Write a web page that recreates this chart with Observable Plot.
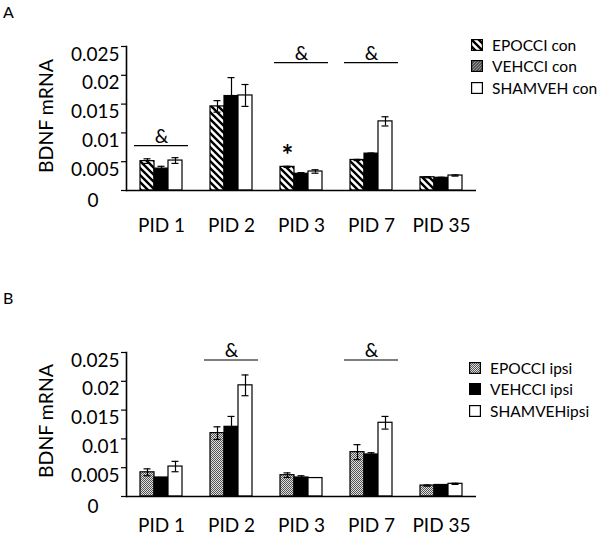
<!DOCTYPE html>
<html>
<head>
<meta charset="utf-8">
<script src="https://cdn.jsdelivr.net/npm/d3@7"></script>
<script src="https://cdn.jsdelivr.net/npm/@observablehq/plot@0.6"></script>
<style>
  html, body { margin: 0; padding: 0; background: #fff; }
  #wrap { position: relative; width: 600px; height: 535px; font-family: Lato, "Noto Sans", sans-serif; color: #000; overflow: hidden; }
  .panel { position: absolute; left: 0; }
  .letter { position: absolute; left: 3px; font-size: 16px; }
  .ylab { position: absolute; font-size: 19.5px; white-space: nowrap; transform: translate(-50%, -50%) rotate(-90deg); }
  .legend { position: absolute; font-size: 15.5px; }
  .legend .row { display: flex; align-items: center; height: 21.5px; white-space: nowrap; }
  .legend svg { margin-right: 9px; flex: none; }
</style>
</head>
<body>
<svg width="0" height="0" style="position:absolute">
  <defs>
    <pattern id="hatch" patternUnits="userSpaceOnUse" width="7" height="7">
      <rect width="7" height="7" fill="#fff"/>
      <path d="M0,0L7,7M-1,6L1,8M6,-1L8,1" stroke="#000" stroke-width="2.4"/>
    </pattern>
    <pattern id="fine" patternUnits="userSpaceOnUse" width="3" height="3">
      <rect width="3" height="3" fill="#555"/>
      <path d="M0,3L3,0M-1,1L1,-1M2,4L4,2" stroke="#aaa" stroke-width="0.8"/>
    </pattern>
    <pattern id="checker" patternUnits="userSpaceOnUse" width="2" height="2">
      <rect width="2" height="2" fill="#e0e0e0"/>
      <rect width="1" height="1" fill="#555"/>
      <rect x="1" y="1" width="1" height="1" fill="#555"/>
    </pattern>
  </defs>
</svg>
<div id="wrap">
  <div class="letter" style="top:2px">A</div>
  <div class="letter" style="top:288px">B</div>
  <div id="panelA" class="panel" style="top:0px"></div>
  <div id="panelB" class="panel" style="top:270px"></div>
  <div class="ylab" style="left:45px; top:116px">BDNF mRNA</div>
  <div class="ylab" style="left:45px; top:421px">BDNF mRNA</div>
  <div id="legendA" class="legend" style="left:471px; top:34px"></div>
  <div id="legendB" class="legend" style="left:469px; top:357px"></div>
</div>
<script>
// ---------- data ----------
const pids = ["PID 1", "PID 2", "PID 3", "PID 7", "PID 35"];
const yTicks = [0.005, 0.01, 0.015, 0.02, 0.025];

// Panel A (contralateral)
const seriesA = ["EPOCCI con", "VEHCCI con", "SHAMVEH con"];
const epoConMean  = [0.0051, 0.0146, 0.0041, 0.0053, 0.0023];
const epoConSem   = [0.0004, 0.0010, 0.0001, 0.0001, 0.0001];
const vehConMean  = [0.0038, 0.0164, 0.0029, 0.0064, 0.0022];
const vehConSem   = [0.0004, 0.0032, 0.0002, 0.0001, 0.0001];
const shamConMean = [0.0052, 0.0165, 0.0033, 0.0120, 0.0026];
const shamConSem  = [0.0005, 0.0019, 0.0003, 0.0008, 0.0001];
const sigPidsA = ["PID 1", "PID 3", "PID 7"];
const sigYA    = [0.0078, 0.0222, 0.0222];
const starPidsA = ["PID 3"];
const starYA    = [0.0059];

// Panel B (ipsilateral)
const seriesB = ["EPOCCI ipsi", "VEHCCI ipsi", "SHAMVEHipsi"];
const epoIpsiMean  = [0.0042, 0.0110, 0.0037, 0.0077, 0.0019];
const epoIpsiSem   = [0.0006, 0.0011, 0.0004, 0.0013, 0.0001];
const vehIpsiMean  = [0.0033, 0.0121, 0.0033, 0.0073, 0.0020];
const vehIpsiSem   = [0.0000, 0.0018, 0.0003, 0.0003, 0.0000];
const shamIpsiMean = [0.0052, 0.0193, 0.0032, 0.0128, 0.0022];
const shamIpsiSem  = [0.0009, 0.0018, 0.0000, 0.0011, 0.0001];
const sigPidsB = ["PID 2", "PID 7"];
const sigYB    = [0.0237, 0.0237];

// ---------- build ----------
// band domain: a spacer slot on each side of every group of three bars
const keys = pids.flatMap(p => [p + "|L", p + "|0", p + "|1", p + "|2", p + "|R"]);

function rows(means, sems, j) {
  return pids.map((p, i) => ({pid: p, key: p + "|" + j, mean: means[i], sem: sems[i]}));
}

function panel(cfg) {
  const barFills = cfg.fills;
  const all = cfg.series.flatMap((s, j) => rows(cfg.means[j], cfg.sems[j], j));
  const withErr = all.filter(d => d.sem > 0);
  const sig = cfg.sigPids.map((p, i) => ({pid: p, y: cfg.sigY[i]}));
  const stars = (cfg.starPids || []).map((p, i) => ({pid: p, y: cfg.starY[i]}));
  const marks = [];
  cfg.series.forEach((s, j) => {
    marks.push(Plot.barY(all.filter(d => d.key.endsWith("|" + j)), {
      x: "key", y: "mean", fill: barFills[j], stroke: "#000", strokeWidth: 1.2
    }));
  });
  marks.push(
    Plot.ruleX(withErr, {x: "key", y1: d => d.mean - d.sem, y2: d => d.mean + d.sem, stroke: "#000", strokeWidth: 1.2}),
    Plot.tickY(withErr, {x: "key", y: d => d.mean + d.sem, insetLeft: 3.5, insetRight: 3.5, stroke: "#000", strokeWidth: 1.2}),
    Plot.tickY(withErr, {x: "key", y: d => d.mean - d.sem, insetLeft: 3.5, insetRight: 3.5, stroke: "#000", strokeWidth: 1.2}),
    Plot.ruleY([0], {stroke: "#000", strokeWidth: 1.6}),
    Plot.frame({anchor: "left", stroke: "#000", strokeWidth: 1.6}),
    Plot.axisY(yTicks.concat([0]), {tickSize: 5, tickFormat: () => "", label: null, stroke: "#000", strokeWidth: 1.2}),
    Plot.axisY(yTicks, {tickSize: 0, tickPadding: 7, dy: 8, fontSize: 19, tickFormat: d => String(d), label: null}),
    Plot.axisY([0], {tickSize: 0, tickPadding: 7, dx: -21, dy: 10, fontSize: 19, tickFormat: d => String(d), label: null}),
    Plot.axisX(pids.map(p => p + "|1"), {tickSize: 0, tickPadding: cfg.xPad, fontSize: 19, tickFormat: k => k.split("|")[0], label: null}),
    Plot.ruleY(sig, {y: "y", x1: d => d.pid + "|L", x2: d => d.pid + "|R", insetLeft: 8, insetRight: 8, stroke: "#000", strokeWidth: 1.2}),
    Plot.text(sig, {x: d => d.pid + "|1", y: "y", text: () => "&", dy: -9, fontSize: 19}),
    Plot.text(stars, {x: d => d.pid + "|0", y: "y", text: () => "*", fontSize: 28, fontWeight: "bold"})
  );
  return Plot.plot({
    width: 600,
    height: cfg.height,
    marginLeft: 126,
    marginRight: 124,
    marginTop: cfg.marginTop,
    marginBottom: cfg.marginBottom,
    style: {fontFamily: "Lato, 'Noto Sans', sans-serif", fontSize: "19px", color: "#000", background: "transparent", overflow: "visible"},
    x: {type: "band", domain: keys, padding: 0},
    y: {domain: [0, 0.025]},
    marks
  });
}

function legend(el, series, swatches) {
  series.forEach((s, j) => {
    const row = document.createElement("div");
    row.className = "row";
    row.innerHTML = `<svg width="12" height="12"><rect x="0.6" y="0.6" width="10.8" height="10.8" fill="${swatches[j]}" stroke="#000" stroke-width="1.2"/></svg><span>${s}</span>`;
    el.appendChild(row);
  });
}

document.getElementById("panelA").appendChild(panel({
  series: seriesA,
  means: [epoConMean, vehConMean, shamConMean],
  sems: [epoConSem, vehConSem, shamConSem],
  fills: ["url(#hatch)", "#000", "#fff"],
  sigPids: sigPidsA, sigY: sigYA, starPids: starPidsA, starY: starYA,
  height: 240, marginTop: 46, marginBottom: 50, xPad: 28
}));
document.getElementById("panelB").appendChild(panel({
  series: seriesB,
  means: [epoIpsiMean, vehIpsiMean, shamIpsiMean],
  sems: [epoIpsiSem, vehIpsiSem, shamIpsiSem],
  fills: ["url(#checker)", "#000", "#fff"],
  sigPids: sigPidsB, sigY: sigYB,
  height: 265, marginTop: 82, marginBottom: 39, xPad: 22
}));
legend(document.getElementById("legendA"), seriesA, ["url(#hatch)", "url(#fine)", "#fff"]);
legend(document.getElementById("legendB"), seriesB, ["url(#checker)", "#000", "#fff"]);
</script>
</body>
</html>
